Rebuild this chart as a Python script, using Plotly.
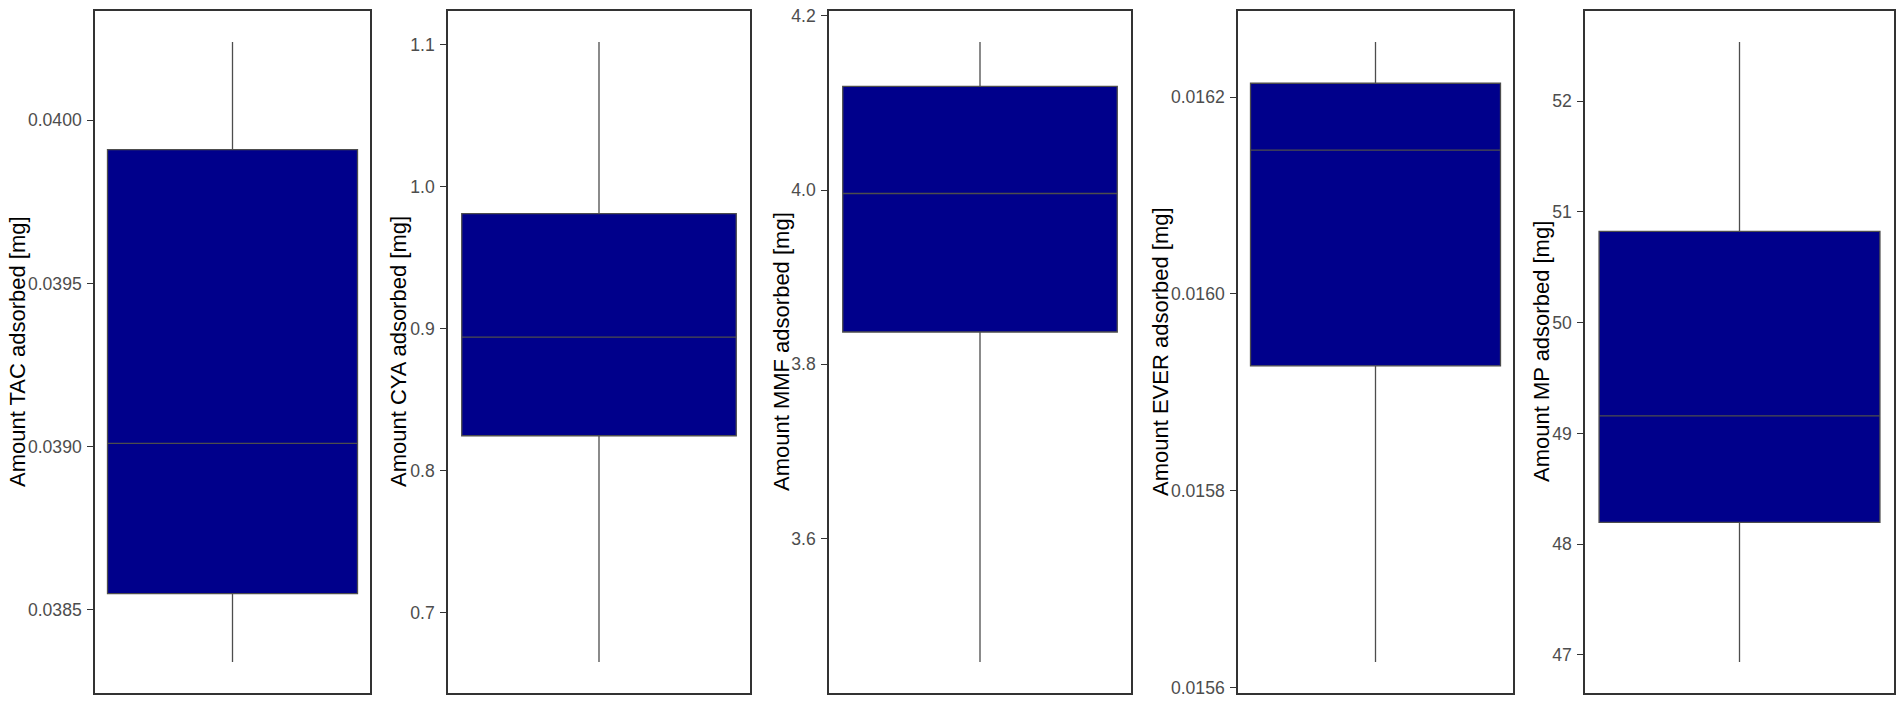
import plotly.graph_objects as go

# ---- data ----
titles = ["Amount TAC adsorbed [mg]", "Amount CYA adsorbed [mg]", "Amount MMF adsorbed [mg]",
          "Amount EVER adsorbed [mg]", "Amount MP adsorbed [mg]"]
lower_whisker = [0.03834, 0.665, 3.458, 0.015626, 46.935]
q1_vals = [0.03855, 0.8245, 3.837, 0.015927, 48.196]
median_vals = [0.03901, 0.894, 3.996, 0.016146, 49.158]
q3_vals = [0.03991, 0.981, 4.119, 0.016214, 50.824]
upper_whisker = [0.04024, 1.102, 4.170, 0.016256, 52.535]
tick_values = [
    [0.0385, 0.0390, 0.0395, 0.0400],
    [0.7, 0.8, 0.9, 1.0, 1.1],
    [3.6, 3.8, 4.0, 4.2],
    [0.0156, 0.0158, 0.0160, 0.0162],
    [47, 48, 49, 50, 51, 52],
]
tick_labels = [
    ["0.0385", "0.0390", "0.0395", "0.0400"],
    ["0.7", "0.8", "0.9", "1.0", "1.1"],
    ["3.6", "3.8", "4.0", "4.2"],
    ["0.0156", "0.0158", "0.0160", "0.0162"],
    ["47", "48", "49", "50", "51", "52"],
]

# ---- layout geometry (pixels) ----
W, H = 1901, 706
frames_x = [(95, 370), (448, 750), (829, 1131), (1238, 1513), (1585, 1894)]
title_x = [17, 398, 781, 1160, 1541]
frame_top, frame_bottom = 6, 698

fig = go.Figure()
layout = dict(
    width=W, height=H, margin=dict(l=0, r=0, t=0, b=0),
    paper_bgcolor="white", plot_bgcolor="white", showlegend=False,
    font=dict(family="Liberation Sans, Arial, sans-serif"),
)
ydom = [(H - frame_bottom) / H, (H - frame_top) / H]
annotations = []
for i in range(5):
    ax = "" if i == 0 else str(i + 1)
    fig.add_trace(go.Box(
        x=[0], q1=[q1_vals[i]], median=[median_vals[i]], q3=[q3_vals[i]],
        lowerfence=[lower_whisker[i]], upperfence=[upper_whisker[i]],
        width=1.0, whiskerwidth=0, fillcolor="#00008B",
        line=dict(color="#4D4D4D", width=1.3),
        boxpoints=False, hoverinfo="skip",
        xaxis="x" + ax, yaxis="y" + ax,
    ))
    lo, hi = lower_whisker[i], upper_whisker[i]
    pad = (hi - lo) * 0.05
    x0, x1 = frames_x[i]
    layout["xaxis" + ax] = dict(
        domain=[x0 / W, x1 / W], range=[-0.55, 0.55], anchor="y" + ax,
        showticklabels=False, ticks="", showgrid=False, zeroline=False,
        showline=True, mirror=True, linecolor="#333333", linewidth=1.5,
        fixedrange=True,
    )
    layout["yaxis" + ax] = dict(
        domain=ydom, range=[lo - pad, hi + pad], anchor="x" + ax,
        tickmode="array", tickvals=tick_values[i], ticktext=tick_labels[i],
        ticks="outside", ticklen=6, tickwidth=1.2, tickcolor="#333333",
        tickfont=dict(size=17.6, color="#4D4D4D", family="Liberation Sans, Arial, sans-serif"),
        ticklabelstandoff=2,
        showgrid=False, zeroline=False,
        showline=True, mirror=True, linecolor="#333333", linewidth=1.5,
        fixedrange=True,
    )
    annotations.append(dict(
        text=titles[i], x=title_x[i] / W, y=(H - (frame_top + frame_bottom) / 2) / H,
        xref="paper", yref="paper", xanchor="center", yanchor="middle",
        textangle=-90, showarrow=False,
        font=dict(size=22, color="black", family="Liberation Sans, Arial, sans-serif"),
    ))
layout["annotations"] = annotations
fig.update_layout(**layout)
fig.write_html(
    "out.html",
    config={"displayModeBar": False},
    post_script="document.body.style.margin='0';document.body.style.overflow='hidden';",
)
